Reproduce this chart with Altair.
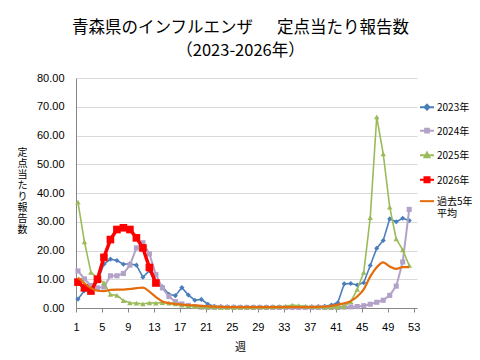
import altair as alt
import pandas as pd

# ---------------- data ----------------
weeks = list(range(1, 53))
weeks_2026 = list(range(1, 14))

series_names = ["2023年", "2024年", "2025年", "2026年", "過去5年平均"]

y2023 = [3.1, 6.0, 7.7, 9.5, 15.2, 17.0, 16.5, 15.2, 15.4, 14.9, 10.7, 13.0, 8.5,
         7.4, 4.8, 4.3, 7.1, 4.5, 2.7, 3.0, 1.3, 0.6, 0.5, 0.4, 0.4, 0.3, 0.3,
         0.3, 0.3, 0.3, 0.3, 0.3, 0.3, 0.3, 0.3, 0.3, 0.4, 0.5, 0.6, 1.0, 1.8,
         8.4, 8.5, 8.0, 8.8, 14.8, 20.8, 23.5, 31.0, 30.0, 31.2, 30.4]
y2024 = [12.9, 10.1, 7.8, 7.0, 7.3, 11.2, 11.2, 12.0, 14.9, 20.9, 22.7, 18.8, 11.6,
         7.0, 4.0, 2.2, 1.4, 0.9, 0.5, 0.3, 0.2, 0.2, 0.2, 0.2, 0.2, 0.2, 0.2,
         0.2, 0.2, 0.2, 0.2, 0.2, 0.2, 0.2, 0.2, 0.2, 0.2, 0.2, 0.2, 0.2, 0.2,
         0.3, 0.4, 0.5, 0.8, 1.3, 2.0, 2.7, 4.4, 7.6, 16.0, 34.3]
y2025 = [36.8, 23.0, 12.4, 10.4, 8.8, 4.7, 4.4, 2.6, 1.8, 1.7, 1.4, 1.8, 1.7,
         1.9, 1.7, 1.4, 1.0, 0.7, 0.5, 0.4, 0.3, 0.3, 0.2, 0.2, 0.2, 0.2, 0.2,
         0.3, 0.3, 0.3, 0.4, 0.5, 0.6, 1.0, 0.8, 0.6, 0.5, 0.4, 0.3, 0.3, 0.3,
         0.6, 2.2, 6.5, 12.4, 31.4, 66.5, 53.6, 35.1, 24.0, 20.2, 14.8]
y2026 = [9.0, 7.0, 5.9, 10.0, 17.6, 23.8, 27.3, 27.9, 27.3, 24.4, 20.9, 14.1, 8.7]
avg5 = [10.6, 8.6, 6.9, 6.0, 5.9, 6.3, 6.4, 6.4, 6.6, 6.9, 7.1, 5.7, 3.8,
        2.3, 1.7, 1.4, 1.2, 1.0, 0.9, 0.7, 0.6, 0.5, 0.4, 0.3, 0.3, 0.3, 0.3,
        0.3, 0.3, 0.3, 0.3, 0.3, 0.3, 0.3, 0.3, 0.3, 0.3, 0.4, 0.5, 0.7, 1.2,
        1.6, 2.4, 4.0, 6.5, 10.9, 14.2, 15.9, 14.4, 13.6, 14.2, 14.2]

x_tick_values = list(range(1, 54, 4))
y_tick_values = list(range(0, 81, 10))

title_lines = ["青森県のインフルエンザ\u3000\u00a0\u00a0定点当たり報告数", "（2023-2026年）"]
y_title = "定点当たり報告数"
x_title = "週"

# ---------------- styles ----------------
colors = ["#4A7EBB", "#B3A2C7", "#9BBB59", "#FF0000", "#E46C0A"]
line_widths = [1.6, 2.0, 1.6, 3.5, 2.2]
marker_shapes = ["diamond", "square", "triangle-up", "square", None]
marker_sizes = [26, 26, 30, 58, 0]
legend_paths = [
    "M-1,-0.55L1,-0.55M0,-0.9L0.35,-0.55L0,-0.2L-0.35,-0.55Z",
    "M-1,-0.55L1,-0.55M-0.27,-0.82L0.27,-0.82L0.27,-0.28L-0.27,-0.28Z",
    "M-1,-0.55L1,-0.55M0,-0.9L0.35,-0.25L-0.35,-0.25Z",
    "M-1,-0.55L1,-0.55M-0.36,-0.91L0.36,-0.91L0.36,-0.19L-0.36,-0.19Z",
    "M-1,-0.55L1,-0.55",
]

JP = "Noto Sans CJK JP"
NUM = "Liberation Sans"

# ---------------- table ----------------
rows = []
for name, xs, ys in zip(series_names,
                        [weeks, weeks, weeks, weeks_2026, weeks],
                        [y2023, y2024, y2025, y2026, avg5]):
    for w, v in zip(xs, ys):
        rows.append({"series": name, "week": w, "value": v})
df = pd.DataFrame(rows)

base = alt.Chart(df)

x_enc = alt.X(
    "week:Q",
    scale=alt.Scale(domain=[0.7, 53.2], nice=False, zero=False),
    axis=alt.Axis(
        values=x_tick_values, title=x_title, grid=False,
        labelFont=NUM, labelFontSize=11, labelColor="#000000", labelPadding=9,
        ticks=True, tickSize=4, tickColor="#868686", tickOffset=-2,
        domainColor="#868686", domainWidth=1,
        titleFont=JP, titleFontSize=11, titleFontWeight="normal", titleColor="#000000",
        titleX=164, titleY=39, titleBaseline="middle",
    ),
)
y_enc = alt.Y(
    "value:Q",
    scale=alt.Scale(domain=[0, 80], nice=False),
    axis=alt.Axis(
        values=y_tick_values, format=".2f", title=list(y_title),
        labelFont=NUM, labelFontSize=11, labelColor="#000000", labelPadding=12,
        ticks=False, grid=True, gridColor="#D9D9D9", gridWidth=1,
        domainColor="#868686", domainWidth=1,
        titleFont=JP, titleFontSize=10, titleFontWeight="normal", titleColor="#000000",
        titleAngle=0, titleAlign="center", titleBaseline="top", titleLineHeight=11,
        titleX=-54, titleY=69,
    ),
)

layers = []
for i, name in enumerate(series_names):
    sub = base.transform_filter(alt.datum.series == name)
    interp = "monotone" if marker_shapes[i] is None else "linear"
    layers.append(sub.mark_line(color=colors[i], strokeWidth=line_widths[i],
                                interpolate=interp).encode(x=x_enc, y=y_enc))
    if marker_shapes[i] is not None:
        layers.append(sub.mark_point(shape=marker_shapes[i], filled=True, opacity=1,
                                     size=marker_sizes[i], color=colors[i])
                      .encode(x=x_enc, y=y_enc))

legend = alt.Legend(
    title=None, orient="none", legendX=343, legendY=25, padding=0,
    labelFont=JP, labelFontSize=10, labelColor="#000000", labelBaseline="alphabetic",
    labelOffset=2, symbolSize=196, symbolStrokeWidth=2,
    rowPadding=10.5, symbolOpacity=1,
    labelExpr="datum.label == '過去5年平均' ? [' 過去5年', '平均'] : datum.label",
)
legend_layer = base.transform_filter("false").mark_point(filled=True, opacity=1).encode(
    x=x_enc, y=y_enc,
    color=alt.Color("series:N", scale=alt.Scale(domain=series_names, range=colors), legend=legend),
    stroke=alt.Stroke("series:N", scale=alt.Scale(domain=series_names, range=colors), legend=legend),
    shape=alt.Shape("series:N", scale=alt.Scale(domain=series_names, range=legend_paths), legend=legend),
)
layers.append(legend_layer)

chart = alt.layer(*layers).properties(
    width=341, height=230,
    padding={"left": 68, "top": 70, "right": 55, "bottom": 44},
    autosize=alt.AutoSizeParams(type="none"),
    title=alt.TitleParams(
        text=title_lines, font=JP, fontSize=16.5, fontWeight="normal", color="#000000",
        anchor="middle", frame="group", dx=-6, lineHeight=23, offset=13,
    ),
).configure_view(stroke=None)

chart.save("out.html", embed_options={"renderer": "svg", "actions": False})
